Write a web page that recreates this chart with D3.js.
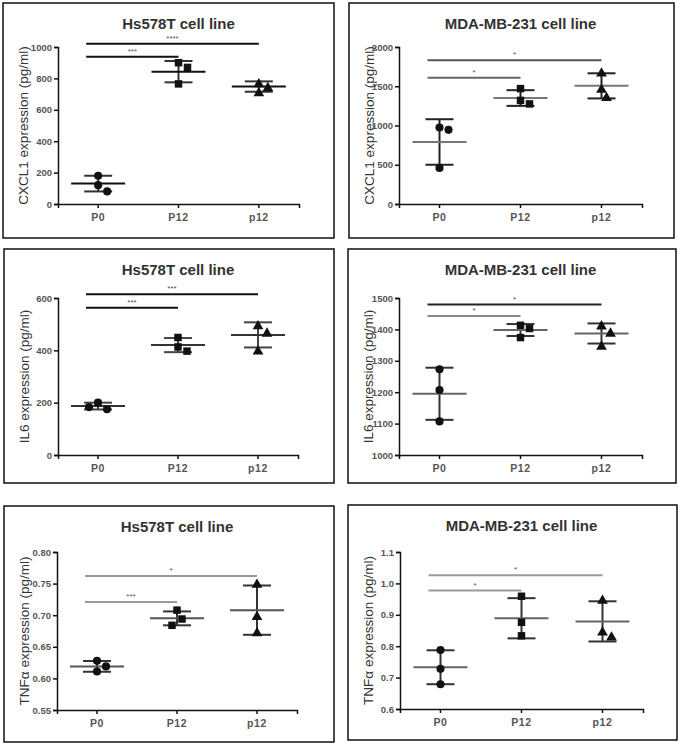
<!DOCTYPE html>
<html>
<head>
<meta charset="utf-8">
<script src="https://cdn.jsdelivr.net/npm/d3@7/dist/d3.min.js"></script>
<style>
  body { margin: 0; background: #fff; }
  text { font-family: Arial, "Liberation Sans", sans-serif; }
</style>
</head>
<body>
<svg id="chart" width="685" height="749"></svg>
<script>
const groups = ['P0', 'P12', 'p12'];
const sigPairs = [[0, 1], [0, 2]];

// CXCL1 - Hs578T
const cxcl1Hs = [[180, 120, 80], [900, 870, 765], [770, 745, 712]];
const cxcl1HsMean = [130, 843, 748];
const cxcl1HsSd = [50, 68, 33];
const cxcl1HsTicks = [0, 200, 400, 600, 800, 1000];
const cxcl1HsSig = ['***', '****'];
const cxcl1HsSigY = [938, 1020];

// CXCL1 - MDA-MB-231
const cxcl1Mda = [[975, 945, 460], [1470, 1320, 1275], [1675, 1470, 1365]];
const cxcl1MdaMean = [790, 1350, 1505];
const cxcl1MdaSd = [290, 100, 160];
const cxcl1MdaTicks = [0, 500, 1000, 1500, 2000];
const cxcl1MdaSig = ['*', '*'];
const cxcl1MdaSigY = [1607, 1831];

// IL6 - Hs578T
const il6Hs = [[200, 175, 183], [449, 413, 397], [496, 468, 400]];
const il6HsMean = [187, 420, 459];
const il6HsSd = [13, 27, 48];
const il6HsTicks = [0, 200, 400, 600];
const il6HsSig = ['***', '***'];
const il6HsSigY = [563, 614];

// IL6 - MDA-MB-231
const il6Mda = [[1273, 1207, 1107], [1413, 1403, 1374], [1413, 1390, 1348]];
const il6MdaMean = [1195, 1398, 1387];
const il6MdaSd = [83, 19, 32];
const il6MdaTicks = [1000, 1100, 1200, 1300, 1400, 1500];
const il6MdaSig = ['*', '*'];
const il6MdaSigY = [1443, 1479];

// TNFa - Hs578T
const tnfHs = [[0.628, 0.619, 0.611], [0.708, 0.694, 0.684], [0.750, 0.699, 0.673]];
const tnfHsMean = [0.619, 0.695, 0.708];
const tnfHsSd = [0.0085, 0.011, 0.039];
const tnfHsTicks = [0.55, 0.60, 0.65, 0.70, 0.75, 0.80];
const tnfHsSig = ['***', '*'];
const tnfHsSigY = [0.721, 0.762];

// TNFa - MDA-MB-231
const tnfMda = [[0.788, 0.728, 0.679], [0.959, 0.876, 0.833], [0.948, 0.847, 0.831]];
const tnfMdaMean = [0.733, 0.889, 0.879];
const tnfMdaSd = [0.054, 0.064, 0.064];
const tnfMdaTicks = [0.6, 0.7, 0.8, 0.9, 1.0, 1.1];
const tnfMdaSig = ['*', '*'];
const tnfMdaSigY = [0.977, 1.026];

const panels = [
  { box: [3, 3, 331, 235], plot: { l: 58, r: 299, t: 47, b: 204 }, title: 'Hs578T cell line',
    ylabel: 'CXCL1 expression (pg/ml)', pts: cxcl1Hs, mean: cxcl1HsMean, sd: cxcl1HsSd,
    ticks: cxcl1HsTicks, fmt: d3.format('d'), sig: cxcl1HsSig, sigY: cxcl1HsSigY,
    meanColor: '#111', capColor: '#333', sigColor: ['#111', '#111'] },
  { box: [349, 3, 325, 235], plot: { l: 399, r: 642, t: 47, b: 204 }, title: 'MDA-MB-231 cell line',
    ylabel: 'CXCL1 expression (pg/ml)', pts: cxcl1Mda, mean: cxcl1MdaMean, sd: cxcl1MdaSd,
    ticks: cxcl1MdaTicks, fmt: d3.format('d'), sig: cxcl1MdaSig, sigY: cxcl1MdaSigY,
    meanColor: '#777', capColor: '#222', sigColor: ['#666', '#555'] },
  { box: [4, 249, 330, 234], plot: { l: 58, r: 298, t: 298, b: 455 }, title: 'Hs578T cell line',
    ylabel: 'IL6 expression (pg/ml)', pts: il6Hs, mean: il6HsMean, sd: il6HsSd,
    ticks: il6HsTicks, fmt: d3.format('d'), sig: il6HsSig, sigY: il6HsSigY,
    meanColor: '#333', capColor: '#444', sigColor: ['#111', '#111'] },
  { box: [348, 249, 328, 234], plot: { l: 399, r: 642, t: 298, b: 455 }, title: 'MDA-MB-231 cell line',
    ylabel: 'IL6 expression (pg/ml)', pts: il6Mda, mean: il6MdaMean, sd: il6MdaSd,
    ticks: il6MdaTicks, fmt: d3.format('d'), sig: il6MdaSig, sigY: il6MdaSigY,
    meanColor: '#666', capColor: '#333', sigColor: ['#888', '#222'] },
  { box: [4, 506, 330, 236], plot: { l: 57, r: 297, t: 552, b: 710 }, title: 'Hs578T cell line',
    ylabel: 'TNFα expression (pg/ml)', pts: tnfHs, mean: tnfHsMean, sd: tnfHsSd,
    ticks: tnfHsTicks, fmt: d3.format('.2f'), sig: tnfHsSig, sigY: tnfHsSigY,
    meanColor: '#555', capColor: '#333', sigColor: ['#999', '#999'] },
  { box: [348, 505, 329, 235], plot: { l: 400, r: 643, t: 552, b: 709 }, title: 'MDA-MB-231 cell line',
    ylabel: 'TNFα expression (pg/ml)', pts: tnfMda, mean: tnfMdaMean, sd: tnfMdaSd,
    ticks: tnfMdaTicks, fmt: d3.format('.1f'), sig: tnfMdaSig, sigY: tnfMdaSigY,
    meanColor: '#666', capColor: '#333', sigColor: ['#999', '#999'] }
];

const svg = d3.select('#chart');
const shapes = [d3.symbolCircle, d3.symbolSquare, d3.symbolTriangle];
const shapeSize = [52, 56, 50];

panels.forEach(p => {
  const g = svg.append('g');
  const [bx, by, bw, bh] = p.box;

  g.append('rect')
    .attr('x', bx).attr('y', by).attr('width', bw).attr('height', bh)
    .attr('fill', 'none').attr('stroke', '#111').attr('stroke-width', 1.5);

  const x = d3.scaleBand().domain(groups).range([p.plot.l, p.plot.r]);
  const y = d3.scaleLinear().domain(d3.extent(p.ticks)).range([p.plot.b, p.plot.t]);
  const cx = d => x(d) + x.bandwidth() / 2;

  // title
  g.append('text')
    .attr('x', (p.plot.l + p.plot.r) / 2).attr('y', by + 26)
    .attr('text-anchor', 'middle')
    .attr('font-size', 15).attr('font-weight', 'bold').attr('fill', '#333')
    .text(p.title);

  // y axis
  const yAxis = g.append('g')
    .attr('transform', `translate(${p.plot.l},0)`)
    .call(d3.axisLeft(y).tickValues(p.ticks).tickFormat(p.fmt).tickSize(4).tickPadding(2));
  // x axis
  const xAxis = g.append('g')
    .attr('transform', `translate(0,${p.plot.b})`)
    .call(d3.axisBottom(x).tickSize(4).tickPadding(6));
  [yAxis, xAxis].forEach(a => {
    a.select('.domain').attr('stroke', '#111').attr('stroke-width', 1.5);
    a.selectAll('.tick line').attr('stroke', '#111').attr('stroke-width', 1.5);
  });
  yAxis.selectAll('.tick text').attr('font-size', 9.5).attr('font-weight', 'bold').attr('fill', '#555');
  xAxis.selectAll('.tick text').attr('font-size', 10.5).attr('font-weight', 'bold')
    .attr('fill', '#555').attr('letter-spacing', 0.6);

  // y label
  g.append('text')
    .attr('transform', `translate(${bx + 20},${(p.plot.t + p.plot.b) / 2}) rotate(-90)`)
    .attr('text-anchor', 'middle').attr('dy', '0.35em')
    .attr('font-size', 13.5).attr('fill', '#333')
    .text(p.ylabel);

  // significance bars
  sigPairs.forEach(([a, b], i) => {
    const yy = y(p.sigY[i]);
    g.append('line')
      .attr('x1', cx(groups[a]) - 12).attr('x2', cx(groups[b]))
      .attr('y1', yy).attr('y2', yy)
      .attr('stroke', p.sigColor[i]).attr('stroke-width', 2);
    g.append('text')
      .attr('x', (cx(groups[a]) + cx(groups[b])) / 2 - 6).attr('y', yy - 3)
      .attr('text-anchor', 'middle').attr('font-size', 8).attr('fill', '#555')
      .text(p.sig[i]);
  });

  groups.forEach((grp, gi) => {
    const c = cx(grp);
    const hi = y(p.mean[gi] + p.sd[gi]);
    const lo = y(p.mean[gi] - p.sd[gi]);
    g.append('line').attr('x1', c).attr('x2', c).attr('y1', hi).attr('y2', lo)
      .attr('stroke', p.capColor).attr('stroke-width', 2);
    [hi, lo].forEach(v => {
      g.append('line').attr('x1', c - 14).attr('x2', c + 14).attr('y1', v).attr('y2', v)
        .attr('stroke', p.capColor).attr('stroke-width', 2);
    });
    g.append('line').attr('x1', c - 27).attr('x2', c + 27)
      .attr('y1', y(p.mean[gi])).attr('y2', y(p.mean[gi]))
      .attr('stroke', p.meanColor).attr('stroke-width', 2);

    // scatter with simple spread for overlapping points
    const placed = [];
    p.pts[gi].forEach(v => {
      const py = y(v);
      const offs = [0, 5, -5, 9, -9];
      let off = offs.find(o => placed.every(q => Math.hypot(q[0] - o, q[1] - py) >= 9));
      if (off === undefined) off = 0;
      placed.push([off, py]);
      g.append('path')
        .attr('d', d3.symbol().type(shapes[gi]).size(shapeSize[gi])())
        .attr('transform', `translate(${c + off},${py + (gi === 2 ? 1 : 0)})`)
        .attr('fill', '#111');
    });
  });
});
</script>
</body>
</html>
